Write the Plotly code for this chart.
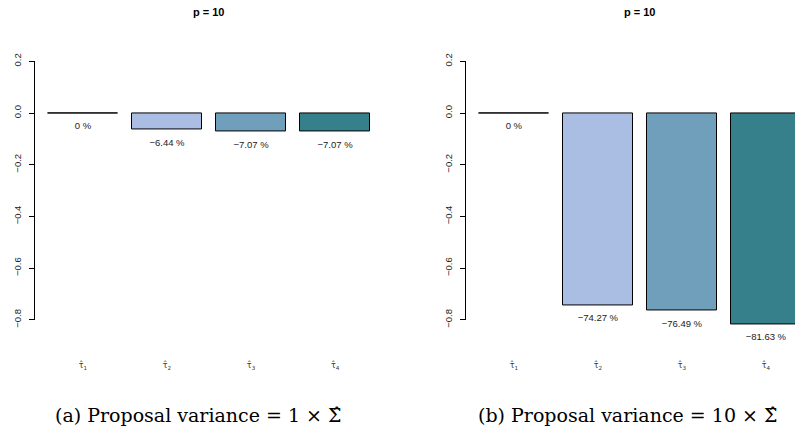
import plotly.graph_objects as go

# ---- data ----
categories = ["τ̂<sub>1</sub>", "τ̂<sub>2</sub>", "τ̂<sub>3</sub>", "τ̂<sub>4</sub>"]
values_a = [0.0, -0.0644, -0.0707, -0.0707]
values_b = [0.0, -0.7427, -0.7649, -0.8163]
labels_a = ["0 %", "−6.44 %", "−7.07 %", "−7.07 %"]
labels_b = ["0 %", "−74.27 %", "−76.49 %", "−81.63 %"]
bar_colors = ["#FFFFFF", "#AABDE3", "#6F9FBA", "#35808A"]
panel_title = "p = 10"
captions = ["(a) Proposal variance = 1 × Σ̂", "(b) Proposal variance = 10 × Σ̂"]
ytick_vals = [0.2, 0.0, -0.2, -0.4, -0.6, -0.8]
ytick_text = ["0.2", "0.0", "−0.2", "−0.4", "−0.6", "−0.8"]

# bar layout like R barplot (width 1, space 0.2)
xpos = [0.7, 1.9, 3.1, 4.3]
label_offset = 0.054

W, H = 795, 448
fig = go.Figure()

# y mapping: value 0 at px 113, 258.5 px per unit
def ypx(v):
    return 113 - v * 258.5

def frac(v):
    return (H - ypx(v)) / H

yr = [-0.93, 0.3]                       # full plotting region
ydom = [frac(yr[0]), frac(yr[1])]
yax_range = [ytick_vals[-1], ytick_vals[0]]   # visible axis spans tick range only
yax_dom = [frac(yax_range[0]), frac(yax_range[1])]

for i, (vals, labs) in enumerate([(values_a, labels_a), (values_b, labels_b)]):
    xa = "x" if i == 0 else "x2"
    ya = "y3" if i == 0 else "y4"
    ya_vis = "y" if i == 0 else "y2"
    # empty trace so the R-style axis (tick range only) gets drawn
    fig.add_trace(go.Scatter(x=[], y=[], xaxis=xa, yaxis=ya_vis,
                             showlegend=False, hoverinfo="skip"))
    fig.add_trace(go.Bar(
        x=xpos, y=vals, width=1.0, xaxis=xa, yaxis=ya,
        marker=dict(color=bar_colors, line=dict(color="black", width=1)),
        showlegend=False, hoverinfo="skip",
    ))
    fig.add_trace(go.Scatter(
        x=xpos, y=[v - label_offset for v in vals], mode="text", text=labs,
        textfont=dict(family="Liberation Sans, Arial", size=9.5, color="#222222"),
        xaxis=xa, yaxis=ya, showlegend=False, hoverinfo="skip", cliponaxis=False,
    ))

visible_y = dict(
    range=yax_range, domain=yax_dom, tickvals=ytick_vals, ticktext=ytick_text,
    ticks="outside", ticklen=5, tickcolor="black", tickwidth=1,
    showline=True, linecolor="black", linewidth=1, automargin=False,
    tickangle=-90, showgrid=False, zeroline=False, fixedrange=True,
    tickfont=dict(family="Liberation Sans, Arial", size=9.5, color="#222222"),
    ticklabelstandoff=4,
)
hidden_y = dict(range=yr, domain=ydom, visible=False, showgrid=False,
                zeroline=False, fixedrange=True, automargin=False)
common_x = dict(
    tickvals=xpos, ticktext=categories, ticks="", showgrid=False,
    zeroline=False, showline=False, anchor="free", position=ydom[0],
    tickfont=dict(family="DejaVu Sans", size=8, color="#333333"),
    ticklabelstandoff=6, fixedrange=True, automargin=False,
)

x_left = [35, 383]
x_right = [466, 795]

fig.update_layout(
    width=W, height=H, margin=dict(l=0, r=0, t=0, b=0, pad=0, autoexpand=False),
    paper_bgcolor="white", plot_bgcolor="white",
    bargap=0,
    xaxis=dict(domain=[x_left[0] / W, x_left[1] / W], range=[0.016, 4.984], **common_x),
    xaxis2=dict(domain=[x_right[0] / W, 1.0],
                range=[0.016, 0.016 + (x_right[1] - x_right[0]) / 70], **common_x),
    yaxis=dict(anchor="x", **visible_y),
    yaxis2=dict(anchor="x2", **visible_y),
    yaxis3=dict(anchor="x", **hidden_y),
    yaxis4=dict(anchor="x2", **hidden_y),
)

# panel titles
for cx in [209, 640]:
    fig.add_annotation(x=cx / W, y=1 - 12 / H, xref="paper", yref="paper",
                       text="<b>" + panel_title + "</b>", showarrow=False,
                       font=dict(family="Liberation Sans, Arial", size=11, color="black"),
                       xanchor="center", yanchor="middle")

# captions
for cx, cap in zip([198, 627], captions):
    fig.add_annotation(x=cx / W, y=1 - 415 / H, xref="paper", yref="paper",
                       text=cap, showarrow=False,
                       font=dict(family="DejaVu Serif", size=19, color="black"),
                       xanchor="center", yanchor="middle")

fig.write_html("out.html", config={"displayModeBar": False},
               post_script="document.body.style.margin='0px';document.body.style.overflow='hidden';")
